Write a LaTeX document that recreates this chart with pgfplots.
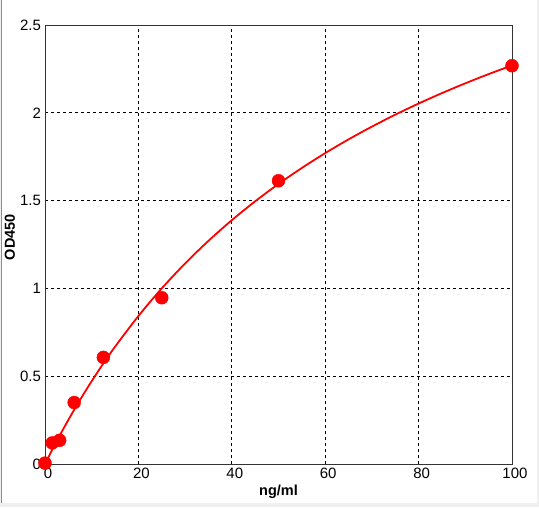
\documentclass[border=0pt]{standalone}
\usepackage{fontspec}
\setmainfont{Liberation Sans}
\usepackage{pgfplots}
\pgfplotsset{compat=1.18}

\begin{document}
\begin{tikzpicture}[x=1pt,y=1pt]
  % window frame (1 px = 1 pt)
  \path[use as bounding box, fill=black!6] (0,0) rectangle (539,507);
  \fill[white] (2,4) rectangle (537,507);
  \draw[black!45, line width=1pt] (1,4) -- (1,507);

  \begin{axis}[
      at={(45pt,43pt)}, anchor=south west,
      scale only axis, width=467pt, height=439pt,
      xmin=0, xmax=100, ymin=0, ymax=2.5,
      xtick={0,20,...,100}, ytick={0,0.5,...,2.5},
      major tick length=0pt,
      axis line style={black!80, line width=0.9pt},
      grid=major,
      major grid style={black, line width=0.9pt, dash pattern=on 3pt off 3pt},
      tick label style={font=\fontsize{15}{17}\selectfont},
      /pgf/number format/assume math mode=true,
      xticklabel style={yshift=-0.5pt, xshift=3pt},
      yticklabel style={xshift=-0.5pt},
      xlabel={\textbf{ng/ml}},
      ylabel={\textbf{OD450}},
      label style={font=\fontsize{14.5}{17}\selectfont},
      xlabel style={at={([yshift=-28pt]rel axis cs:0.5,0)}, anchor=center},
      ylabel style={at={([xshift=-35pt]rel axis cs:0,0.517)}, anchor=center},
      clip=false,
    ]
    % fitted standard curve
    \addplot[red, line width=1.8pt, no marks, smooth] coordinates {
      (0,0) (1,0.0529) (2,0.1044) (4,0.2034) (6,0.2974) (8,0.3868)
      (10,0.4719) (12.5,0.5728) (15,0.6679) (20,0.8428) (25,1.0)
      (30,1.1420) (35,1.2708) (40,1.3884) (45,1.4959) (50,1.5948)
      (55,1.6860) (60,1.7703) (65,1.8486) (70,1.9213) (75,1.9892)
      (80,2.0527) (85,2.1121) (90,2.1679) (95,2.2204) (100,2.2699)
    };
    % measured standards
    \addplot[only marks, mark=*, mark size=6.5pt, red, mark options={fill=red}] coordinates {
      (0,0.005) (1.56,0.12) (3.125,0.135) (6.25,0.35)
      (12.5,0.607) (25,0.947) (50,1.613) (100,2.268)
    };
  \end{axis}
\end{tikzpicture}
\end{document}
